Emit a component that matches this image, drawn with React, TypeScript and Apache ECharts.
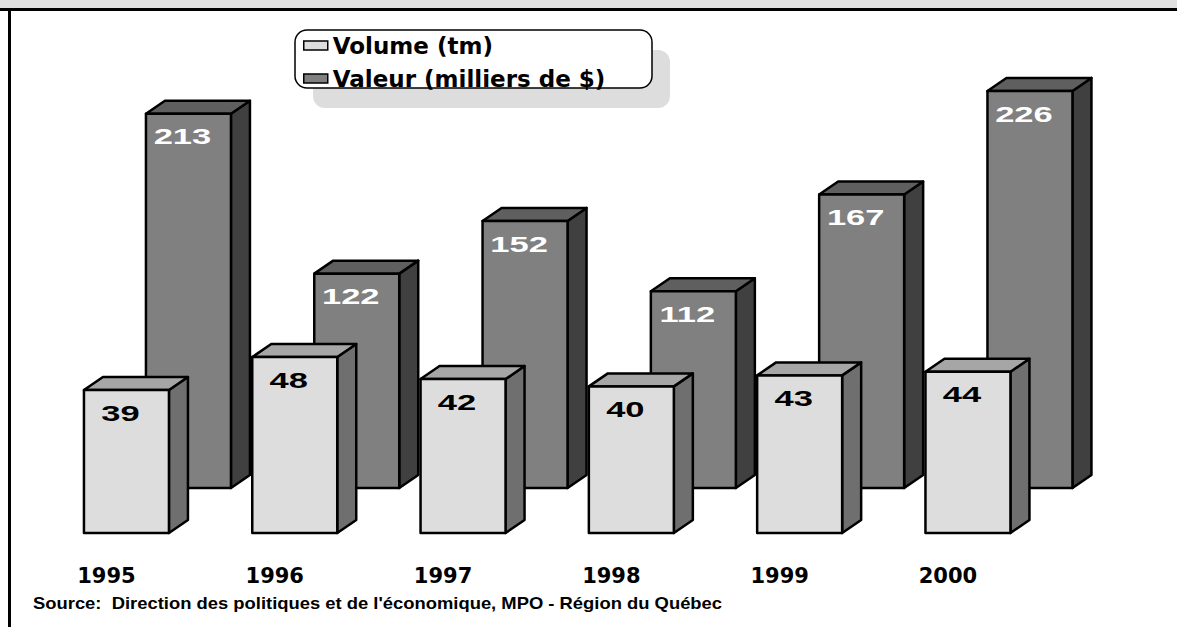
import React, { useEffect, useRef } from "react";
import * as echarts from "echarts";

const years = ["1995", "1996", "1997", "1998", "1999", "2000"];
const volume = [39, 48, 42, 40, 43, 44];
const valeur = [213, 122, 152, 112, 167, 226];
const seriesNames = ["Volume (tm)", "Valeur (milliers de $)"];
const sourceText =
  "Source:  Direction des politiques et de l'économique, MPO - Région du Québec";

const DX = 19;
const DY = -13;

type BoxColors = { front: string; top: string; side: string };

function boxRenderer(colors: BoxColors, labelColor: string) {
  return (params: any, api: any) => {
    const idx = api.value(0);
    const val = api.value(1);
    const topPt = api.coord([idx, val]);
    const basePt = api.coord([idx, 0]);
    const band = api.size([1, 0])[0];
    const w = band * 0.505;
    const L = topPt[0] - w / 2;
    const R = topPt[0] + w / 2;
    const T = topPt[1];
    const B = basePt[1];
    const stroke = { stroke: "#000", lineWidth: 2.5, lineJoin: "round" };
    return {
      type: "group",
      children: [
        {
          type: "polygon",
          shape: { points: [[R, T], [R + DX, T + DY], [R + DX, B + DY], [R, B]] },
          style: { fill: colors.side, ...stroke },
        },
        {
          type: "polygon",
          shape: { points: [[L, T], [L + DX, T + DY], [R + DX, T + DY], [R, T]] },
          style: { fill: colors.top, ...stroke },
        },
        {
          type: "rect",
          shape: { x: L, y: T, width: w, height: B - T },
          style: { fill: colors.front, ...stroke },
        },
        {
          type: "text",
          x: topPt[0] - 6,
          y: T + 22.5,
          scaleX: 1.5,
          style: {
            text: String(val),
            fill: labelColor,
            font: 'bold 23px "Liberation Sans", Arial, sans-serif',
            align: "center",
            verticalAlign: "middle",
          },
        },
      ],
    };
  };
}

export default function App() {
  const ref = useRef<HTMLDivElement>(null);

  useEffect(() => {
    if (!ref.current) return;
    const chart = echarts.init(ref.current, undefined, { renderer: "svg" });
    const band = 168.3;
    const gridW = band * 6;
    const option: any = {
      animation: false,
      backgroundColor: "#fff",
      grid: [
        { left: 42.3, top: 166.5, width: gridW, height: 366.5 },
        { left: 104.3, top: 48.75, width: gridW, height: 439.25 },
      ],
      xAxis: [
        {
          type: "category",
          gridIndex: 0,
          data: years,
          axisLine: { show: false },
          axisTick: { show: false },
          axisLabel: {
            color: "#000",
            fontFamily: "DejaVu Sans",
            fontWeight: "bold",
            fontSize: 21,
            margin: 32,
            padding: [0, 40, 0, 0],
          },
        },
        {
          type: "category",
          gridIndex: 1,
          data: years,
          show: false,
        },
      ],
      yAxis: [
        { type: "value", gridIndex: 0, min: 0, max: 100, show: false, splitLine: { show: false } },
        { type: "value", gridIndex: 1, min: 0, max: 250, show: false, splitLine: { show: false } },
      ],
      legend: {
        data: [seriesNames[0], seriesNames[1]],
        orient: "vertical",
        left: 303,
        top: 34,
        padding: 0,
        itemWidth: 24,
        itemHeight: 9,
        itemGap: 10,
        icon: "rect",
        z: 10,
        itemStyle: { borderColor: "#000", borderWidth: 1.5 },
        textStyle: {
          color: "#000",
          fontFamily: "DejaVu Sans",
          fontWeight: "bold",
          fontSize: 23,
          lineHeight: 22,
        },
      },
      graphic: [
        { type: "rect", z: 0, shape: { x: 0, y: 0, width: 1177, height: 8 }, style: { fill: "#E0E0E0" } },
        { type: "line", z: 1, shape: { x1: 0, y1: 9.5, x2: 1177, y2: 9.5 }, style: { stroke: "#000", lineWidth: 3 } },
        { type: "line", z: 1, shape: { x1: 9.5, y1: 8, x2: 9.5, y2: 627 }, style: { stroke: "#000", lineWidth: 3 } },
        { type: "rect", z: 0, shape: { x: 313, y: 50, width: 357, height: 58, r: 12 }, style: { fill: "#DDDDDD" } },
        { type: "rect", z: 1, shape: { x: 295, y: 30, width: 357, height: 58, r: 12 }, style: { fill: "#fff", stroke: "#000", lineWidth: 1.5 } },
        {
          type: "text",
          z: 1,
          x: 33,
          y: 603,
          scaleX: 1.15,
          style: {
            text: sourceText,
            fill: "#000",
            font: 'bold 16px "Liberation Sans", Arial, sans-serif',
            verticalAlign: "middle",
          },
        },
      ],
      series: [
        {
          type: "custom",
          name: seriesNames[1],
          xAxisIndex: 1,
          yAxisIndex: 1,
          z: 2,
          itemStyle: { color: "#808080" },
          data: valeur.map((v, i) => [i, v]),
          encode: { x: 0, y: 1 },
          renderItem: boxRenderer({ front: "#808080", top: "#5F5F5F", side: "#404040" }, "#fff"),
        },
        {
          type: "custom",
          name: seriesNames[0],
          xAxisIndex: 0,
          yAxisIndex: 0,
          z: 3,
          itemStyle: { color: "#DDDDDD" },
          data: volume.map((v, i) => [i, v]),
          encode: { x: 0, y: 1 },
          renderItem: boxRenderer({ front: "#DDDDDD", top: "#A6A6A6", side: "#6F6F6F" }, "#000"),
        },
      ],
    };
    chart.setOption(option);
    return () => chart.dispose();
  }, []);

  return (
    <div
      ref={ref}
      style={{ position: "fixed", left: 0, top: 0, width: 1177, height: 627 }}
    />
  );
}
